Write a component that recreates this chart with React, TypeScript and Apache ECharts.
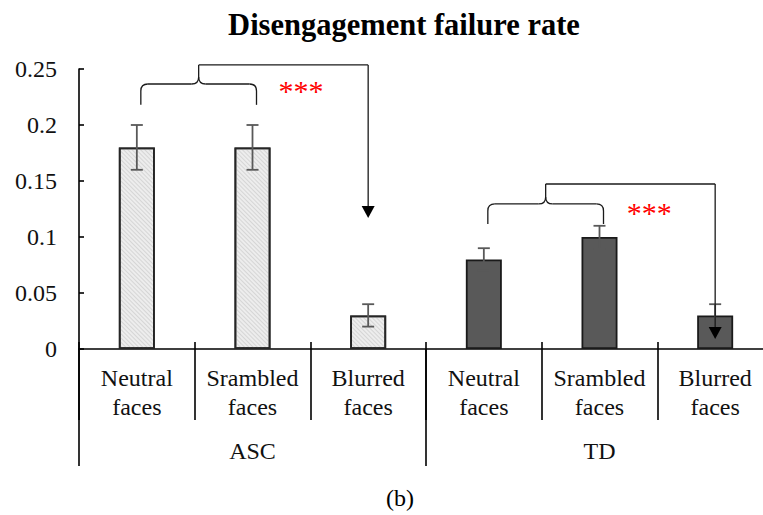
import React, { useEffect, useRef } from 'react';
import * as echarts from 'echarts';

// ---------- data ----------
const categories = [
  'Neutral\nfaces',
  'Srambled\nfaces',
  'Blurred\nfaces',
  'Neutral\nfaces',
  'Srambled\nfaces',
  'Blurred\nfaces',
];
const groups = ['ASC', 'TD'];
const groupOfBar = [0, 0, 0, 1, 1, 1];
const rates = [0.18, 0.18, 0.03, 0.08, 0.1, 0.03];
const errLow = [0.16, 0.16, 0.02, 0.07, 0.09, 0.02];
const errHigh = [0.2, 0.2, 0.04, 0.09, 0.11, 0.04];
const yTicks = [0, 0.05, 0.1, 0.15, 0.2, 0.25];
const titleText = 'Disengagement failure rate';
const captionText = '(b)';
const starsText = '***';

const SERIF = '"Liberation Serif", "Times New Roman", serif';

export default function App() {
  const ref = useRef<HTMLDivElement>(null);

  useEffect(() => {
    document.body.style.margin = '0';
    if (!ref.current) return;
    const chart = echarts.init(ref.current, undefined, { renderer: 'svg' });

    const hatched = {
      color: '#ededed',
      borderColor: '#262626',
      borderWidth: 1.8,
      decal: {
        symbol: 'rect',
        symbolSize: 1,
        dashArrayX: [1, 0],
        dashArrayY: [1, 2],
        rotation: Math.PI / 4,
        color: 'rgba(160,160,160,0.3)',
      },
    };
    const dark = { color: '#595959', borderColor: '#1a1a1a', borderWidth: 1.8 };

    const axisLabelStyle = { fontFamily: SERIF, fontSize: 24, color: '#111' };

    const option: any = {
      animation: false,
      backgroundColor: '#ffffff',
      title: {
        text: titleText,
        left: 399,
        textAlign: 'center',
        top: 4,
        textStyle: { fontFamily: SERIF, fontSize: 30.5, fontWeight: 'bold', color: '#000' },
      },
      grid: { left: 79, width: 694, top: 69, height: 280, containLabel: false, outerBoundsMode: 'none' },
      xAxis: [
        {
          type: 'category',
          data: categories,
          position: 'bottom',
          axisLine: { show: true, lineStyle: { color: '#000', width: 1.6 } },
          axisTick: { show: true, alignWithLabel: false, interval: 0, length: 71, lineStyle: { color: '#000', width: 1.6 } },
          axisLabel: { ...axisLabelStyle, interval: 0, lineHeight: 29, margin: 14 },
        },
        {
          type: 'category',
          data: groups,
          position: 'bottom',
          axisLine: { show: false },
          axisTick: { show: true, alignWithLabel: false, interval: 0, length: 117, lineStyle: { color: '#000', width: 1.6 } },
          axisLabel: { ...axisLabelStyle, interval: 0, margin: 90 },
        },
        {
          type: 'category',
          data: categories,
          position: 'bottom',
          axisLine: { show: false },
          axisTick: { show: true, inside: true, alignWithLabel: false, interval: 0, length: 7, lineStyle: { color: '#000', width: 1.6 } },
          axisLabel: { show: false },
        },
      ],
      yAxis: {
        type: 'value',
        min: yTicks[0],
        max: yTicks[yTicks.length - 1],
        interval: yTicks[1] - yTicks[0],
        axisLine: { show: true, lineStyle: { color: '#000', width: 1.6 } },
        axisTick: { show: true, inside: true, length: 5, lineStyle: { color: '#000', width: 1.6 } },
        splitLine: { show: false },
        axisLabel: {
          ...axisLabelStyle,
          margin: 22,
          formatter: (v: number) => String(+v.toFixed(2)),
        },
      },
      series: [
        {
          type: 'bar',
          xAxisIndex: 0,
          barWidth: 36,
          data: rates.map((v, i) => ({ value: v, itemStyle: groupOfBar[i] === 0 ? hatched : dark })),
          z: 2,
        },
        {
          type: 'custom',
          xAxisIndex: 0,
          data: rates.map((_, i) => [i, errLow[i], errHigh[i]]),
          encode: { x: 0, y: [1, 2] },
          z: 3,
          renderItem: (_p: any, api: any) => {
            const c = api.value(0);
            const x = api.coord([c, 0])[0];
            const lo = api.coord([c, api.value(1)])[1];
            const hi = api.coord([c, api.value(2)])[1];
            const w = 6;
            const style = { stroke: '#595959', lineWidth: 1.8 };
            return {
              type: 'group',
              children: [
                { type: 'line', shape: { x1: x, y1: lo, x2: x, y2: hi }, style },
                { type: 'line', shape: { x1: x - w, y1: hi, x2: x + w, y2: hi }, style },
                { type: 'line', shape: { x1: x - w, y1: lo, x2: x + w, y2: lo }, style },
              ],
            };
          },
        },
      ],
    };

    chart.setOption(option);

    // ---------- annotations (braces, arrows, stars) ----------
    const px = (c: number, v: number) => chart.convertToPixel({ seriesIndex: 0 }, [c, v]) as number[];
    const comparisons = [
      { from: 0, to: 1, target: 2, endY: 0.218, barY: 0.2366, topY: 0.2536, tipY: 0.117, starAt: 1.42, starY: 0.2366 },
      { from: 3, to: 4, target: 5, endY: 0.1116, barY: 0.1295, topY: 0.1473, tipY: 0.009, starAt: 4.43, starY: 0.1268 },
    ];
    const lineStyle = { stroke: '#1a1a1a', lineWidth: 1.3 };
    const elements: any[] = [];
    comparisons.forEach((cmp) => {
      const xL = px(cmp.from, 0)[0] + 4;
      const xR = px(cmp.to, 0)[0] + 4;
      const xM = (xL + xR) / 2;
      const yB = px(0, cmp.endY)[1];
      const yH = px(0, cmp.barY)[1];
      const yT = px(0, cmp.topY)[1];
      const xA = px(cmp.target, 0)[0];
      const yTip = px(0, cmp.tipY)[1];
      const r = 7;
      elements.push(
        { type: 'line', shape: { x1: xL, y1: yB, x2: xL, y2: yH + r }, style: lineStyle },
        { type: 'bezierCurve', shape: { x1: xL, y1: yH + r, cpx1: xL, cpy1: yH, x2: xL + r, y2: yH }, style: lineStyle },
        { type: 'line', shape: { x1: xL + r, y1: yH, x2: xM - r, y2: yH }, style: lineStyle },
        { type: 'bezierCurve', shape: { x1: xM - r, y1: yH, cpx1: xM, cpy1: yH, x2: xM, y2: yH - r }, style: lineStyle },
        { type: 'bezierCurve', shape: { x1: xM + r, y1: yH, cpx1: xM, cpy1: yH, x2: xM, y2: yH - r }, style: lineStyle },
        { type: 'line', shape: { x1: xM, y1: yH - r, x2: xM, y2: yT }, style: lineStyle },
        { type: 'line', shape: { x1: xM + r, y1: yH, x2: xR - r, y2: yH }, style: lineStyle },
        { type: 'bezierCurve', shape: { x1: xR - r, y1: yH, cpx1: xR, cpy1: yH, x2: xR, y2: yH + r }, style: lineStyle },
        { type: 'line', shape: { x1: xR, y1: yH + r, x2: xR, y2: yB }, style: lineStyle },
        { type: 'line', shape: { x1: xM, y1: yT, x2: xA, y2: yT }, style: lineStyle },
        { type: 'line', shape: { x1: xA, y1: yT, x2: xA, y2: yTip - 11 }, style: lineStyle },
        {
          type: 'polygon',
          shape: { points: [[xA - 6.5, yTip - 12], [xA + 6.5, yTip - 12], [xA, yTip]] },
          style: { fill: '#000' },
        }
      );
      const c0 = Math.floor(cmp.starAt);
      const a = px(c0, 0)[0];
      const b = px(c0 + 1, 0)[0];
      const sx = a + (b - a) * (cmp.starAt - c0);
      const sy = px(0, cmp.starY)[1];
      elements.push({
        type: 'text',
        x: sx,
        y: sy + 6,
        style: {
          text: starsText,
          fill: '#ff0000',
          font: `30px ${SERIF}`,
          textAlign: 'center',
          textVerticalAlign: 'middle',
        },
      });
    });
    elements.push({
      type: 'text',
      x: 400,
      y: 498,
      style: {
        text: captionText,
        fill: '#000',
        font: `24px ${SERIF}`,
        textAlign: 'center',
        textVerticalAlign: 'middle',
      },
    });

    chart.setOption({ graphic: elements.map((e) => ({ ...e, z: 10 })) });

    return () => chart.dispose();
  }, []);

  return <div ref={ref} style={{ width: 763, height: 515 }} />;
}
